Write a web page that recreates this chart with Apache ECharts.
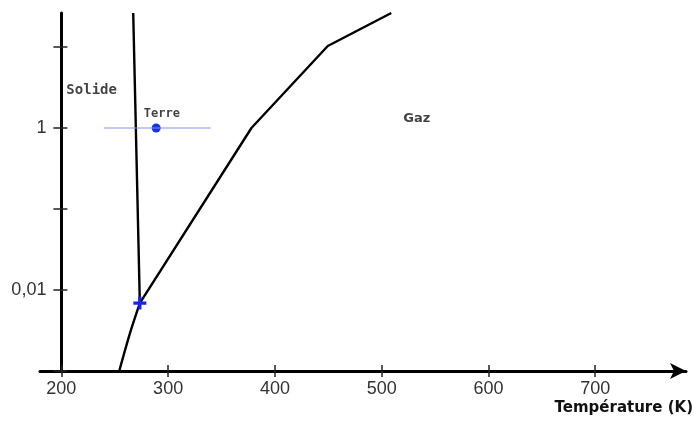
<!DOCTYPE html>
<html>
<head>
<meta charset="utf-8">
<script src="https://cdn.jsdelivr.net/npm/echarts@6/dist/echarts.min.js"></script>
<style>html,body{margin:0;padding:0;background:#fff}#c{width:694px;height:421px}</style>
</head>
<body>
<div id="c"></div>
<script>
// ---- data ----
const xTicks = [200, 300, 400, 500, 600, 700];          // K
const yTicks = [0.001, 0.01, 0.1, 1, 10];              // pressure (log)
const yLabels = [0.01, 1];
const fusionT = [273.5, 267.3];
const fusionP = [0.0069, 26.3];
const sublimT = [254.2, 264.5, 273.5];
const sublimP = [0.001, 0.003, 0.0069];
const vaporT = [273.5, 378, 449.5, 509];
const vaporP = [0.0069, 1, 10.3, 26.3];
const earthT = 288.8, earthP = 1;
const earthRange = [240, 340];
const tripleT = 273.5, tripleP = 0.0069;
const regionNames = ['Solide', 'Terre', 'Gaz'];
const regionT = [204.7, 294.1, 520.2];
const regionP = [2.9, 1.5, 1.3];
const xTitle = 'Température (K)';

const zip = (a, b) => a.map((v, i) => [v, b[i]]);

const baseX = {type: 'value', min: 180, max: 785, position: 'bottom', splitLine: {show: false}};
const baseY = {type: 'log', min: 0.001, max: 26.3, logBase: 10, position: 'left', splitLine: {show: false}, offset: -21.4};

const chart = echarts.init(document.getElementById('c'), null, {renderer: 'canvas'});
chart.setOption({
  animation: false,
  backgroundColor: '#fff',
  grid: {left: 40, right: 8, top: 13, bottom: 50, containLabel: false},
  xAxis: [
    Object.assign({}, baseX, {
      axisLine: {onZero: false, lineStyle: {color: '#000', width: 3}, symbol: ['none', 'arrow'], symbolSize: [12, 16]},
      axisTick: {show: true, length: 6, inside: false, customValues: xTicks, lineStyle: {color: '#222', width: 1.5}},
      axisLabel: {customValues: xTicks, margin: 9, fontFamily: 'Liberation Sans', fontSize: 18, color: '#333'}
    }),
    Object.assign({}, baseX, {
      axisLine: {show: false, onZero: false},
      axisTick: {show: true, length: 6, inside: true, customValues: xTicks, lineStyle: {color: '#222', width: 1.5}},
      axisLabel: {show: false}
    })
  ],
  yAxis: [
    Object.assign({}, baseY, {
      axisLine: {show: true, onZero: false, lineStyle: {color: '#000', width: 3}},
      axisTick: {show: true, length: 8, inside: false, customValues: yTicks, lineStyle: {color: '#222', width: 1.5}},
      axisLabel: {customValues: yLabels, margin: 15, fontFamily: 'Liberation Sans', fontSize: 18, color: '#333',
        formatter: v => String(v).replace('.', ',')}
    }),
    Object.assign({}, baseY, {
      axisLine: {show: false, onZero: false},
      axisTick: {show: true, length: 6, inside: true, customValues: yTicks, lineStyle: {color: '#222', width: 1.5}},
      axisLabel: {show: false}
    })
  ],
  series: [
    {type: 'line', data: zip(fusionT, fusionP), symbol: 'none', lineStyle: {color: '#000', width: 2.4}},
    {type: 'line', data: zip(sublimT, sublimP), symbol: 'none', smooth: 0.3, lineStyle: {color: '#000', width: 2.4}},
    {type: 'line', data: zip(vaporT, vaporP), symbol: 'none', lineStyle: {color: '#000', width: 2.4}},
    {type: 'line', data: [[earthRange[0], earthP], [earthRange[1], earthP]], symbol: 'none', lineStyle: {color: '#8494e6', width: 1.2}},
    {type: 'scatter', data: [[earthT, earthP]], symbol: 'circle', symbolSize: 9, itemStyle: {color: '#1233e6', opacity: 1}},
    {type: 'scatter', z: 10, data: [[tripleT, tripleP]], symbolSize: 13, symbolKeepAspect: true,
      symbol: 'path://M4.5,0L7.5,0L7.5,4.5L12,4.5L12,7.5L7.5,7.5L7.5,12L4.5,12L4.5,7.5L0,7.5L0,4.5L4.5,4.5Z',
      itemStyle: {color: '#1a22e8', opacity: 1}},
    {type: 'scatter', symbolSize: 0, silent: true,
      data: regionNames.map((n, i) => ({
        name: n, value: [regionT[i], regionP[i]],
        label: {
          show: true, position: [0, 0], formatter: '{b}', color: '#111', fontWeight: 'bold',
          align: i === 1 ? 'center' : 'left', verticalAlign: 'middle',
          fontFamily: i === 2 ? 'DejaVu Sans' : 'DejaVu Sans Mono',
          fontSize: i === 0 ? 14 : (i === 1 ? 12 : 13)
        }
      }))
    }
  ],
  graphic: [
    {type: 'text', right: 1, top: 401, style: {text: xTitle, font: 'bold 15px "DejaVu Sans"', fill: '#111'}}
  ]
});
</script>
</body>
</html>
